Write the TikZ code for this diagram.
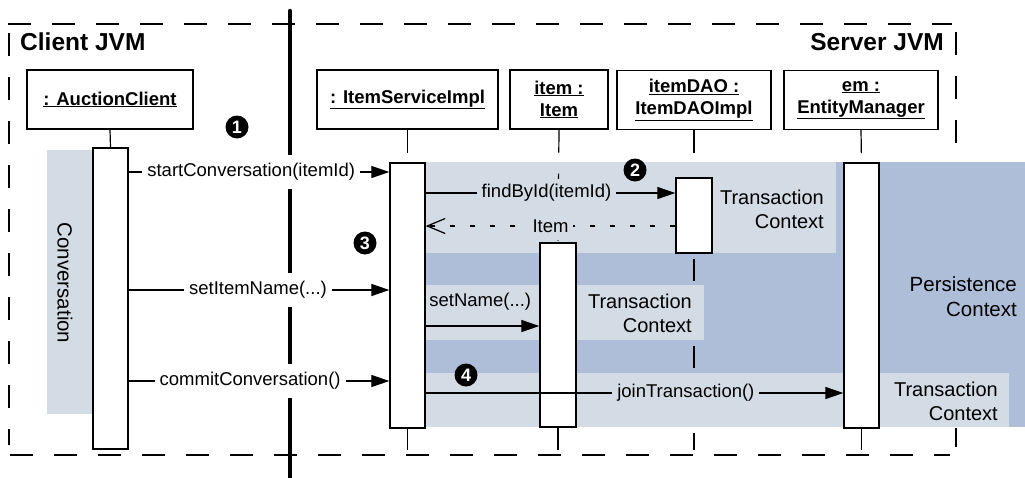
\documentclass[tikz,border=0pt]{standalone}
\usepackage{fontspec}
\setmainfont{Liberation Sans}
\usetikzlibrary{arrows.meta}
\definecolor{lightbg}{RGB}{211,220,228}
\definecolor{darkbg}{RGB}{174,190,217}
\newcommand\msgfont{\fontsize{18.5}{22}\selectfont}
\newcommand\ctxfont{\fontsize{20}{24}\selectfont}
\newcommand\headfont{\fontsize{18.5}{22}\selectfont\bfseries}
\begin{document}
\begin{tikzpicture}[x=1pt,y=-1pt,
 head/.style={draw,line width=1.3pt,fill=white,inner sep=0pt,font=\headfont,align=center,minimum height=59pt},
 act/.style={draw,line width=1.3pt,fill=white,inner sep=0pt,minimum width=35pt},
 life/.style={line width=1.2pt,dash pattern=on 23pt off 21pt},
 lifeend/.style={line width=1.2pt},
 msg/.style={line width=1.2pt,-{Triangle[length=18pt,width=12pt]}},
 ret/.style={line width=1.2pt,dash pattern=on 5pt off 15pt,-{Straight Barb[length=18pt,width=15pt,line width=1.2pt]}},
 mlab/.style={fill=white,inner xsep=5pt,inner ysep=8pt,font=\msgfont},
 llab/.style={mlab,fill=lightbg,inner ysep=5pt},
 ctx/.style={font=\ctxfont,align=right,inner sep=0pt,anchor=east},
 bullet/.style={circle,fill=black,text=white,inner sep=0pt,minimum size=23pt,font=\fontsize{18}{18}\selectfont\bfseries},
 frame/.style={line width=1.2pt,dash pattern=on 23pt off 21pt},
 jvm/.style={font=\fontsize{24.5}{28}\selectfont\bfseries,inner sep=0pt}
]
\useasboundingbox (0,0) rectangle (1025,477);
% frame
\draw[frame] (8,24) -- (952,24);
\draw[frame] (9,33) -- (9,445);
\draw[frame] (956,32) -- (956,447);
\draw[frame] (10,455) -- (950,455);
% backgrounds
\fill[lightbg] (47,150) rectangle (110,414);
\fill[darkbg] (420,162) rectangle (1025,427);
\fill[lightbg] (420,162) rectangle (836,253);
\fill[lightbg] (420,285) rectangle (704,340);
\fill[lightbg] (420,373) rectangle (1009,427);
% JVM boundary
\draw[line width=4.5pt,line cap=round] (290,11) -- (290,482);
% labels
\node[jvm,anchor=base west] (cjvm) at (20,50) {Client JVM};
\node[jvm,anchor=base east] (sjvm) at (944,50) {Server JVM};
\node[rotate=-90,font=\fontsize{20.5}{24}\selectfont,inner sep=0pt] (conv) at (65,283) {Conversation};
\node[ctx] (tc1) at (824,209) {Transaction\\Context};
\node[ctx] (tc2) at (692,313.5) {Transaction\\Context};
\node[ctx] (tc3) at (998,401) {Transaction\\Context};
\node[ctx,font=\fontsize{20.5}{25}\selectfont] (pc) at (1017,296.5) {Persistence\\Context};
% heads
\node[head,minimum width=166pt] (hA) at (110,99.5) {\underline{: AuctionClient}};
\node[head,minimum width=181pt] (hS) at (407.5,99.5) {\underline{: ItemServiceImpl}};
\node[head,minimum width=98pt] (hI) at (559,99.5) {\underline{item :}\\\underline{Item}};
\node[head,minimum width=154pt] (hD) at (694,100) {\underline{itemDAO :}\\\underline{ItemDAOImpl}};
\node[head,minimum width=154pt] (hE) at (861,100) {\underline{em :}\\\underline{EntityManager}};
% activations
\node[act,minimum height=301pt] (aA) at (110.5,298.5) {};
\node[act,minimum height=265pt] (aS) at (407.5,295.5) {};
\node[act,minimum width=36pt,minimum height=184pt] (aI) at (558,335) {};
\node[act,minimum width=36pt,minimum height=75pt] (aD) at (694,215.5) {};
\node[act,minimum height=265pt] (aE) at (861.5,295.5) {};
% lifelines
\coordinate (yb) at (0,450);
\draw[lifeend] (hA.south) -- (aA.north);
\draw[life] (hS.south) -- (aS.north);
\draw[life] (hI.south) -- (aI.north);
\draw[life,shorten >=6pt] (hD.south) -- (aD.north);
\draw[life] (hE.south) -- (aE.north);
\draw[lifeend] (aS.south) -- (aS.south |- yb);
\draw[lifeend] (aI.south) -- (aI.south |- yb);
\draw[lifeend] (aE.south) -- (aE.south |- yb);
\draw[line width=1.2pt,dash pattern=on 22pt off 65pt,dash phase=82pt] (aD.south) -- (aD.south |- yb);
% messages
\coordinate (y1) at (0,172);
\coordinate (y2) at (0,193);
\coordinate (y3) at (0,226);
\coordinate (y4) at (0,290);
\coordinate (y5) at (0,326);
\coordinate (y6) at (0,381);
\coordinate (y7) at (0,393);
\draw[msg] (aA.east |- y1) -- node[mlab,pos=0.47] (l1) {startConversation(itemId)} (aS.west |- y1);
\draw[msg] (aS.east |- y2) -- node[llab,pos=0.484] (l2) {findById(itemId)} (aD.west |- y2);
\draw[ret] (aD.west |- y3) -- node[llab,pos=0.5,inner ysep=8pt] (l3) {Item} (aS.east |- y3);
\draw[msg] (aA.east |- y4) -- node[mlab,pos=0.496] (l4) {setItemName(...)} (aS.west |- y4);
\draw[msg] (aS.east |- y5) -- node[pos=0.48,yshift=24pt,font=\msgfont,inner sep=0pt] (l5) {setName(...)} (aI.west |- y5);
\draw[msg] (aA.east |- y6) -- node[mlab,pos=0.466] (l6) {commitConversation()} (aS.west |- y6);
\draw[msg] (aS.east |- y7) -- node[llab,pos=0.623] (l7) {joinTransaction()} (aE.west |- y7);
% bullets
\node[bullet] (b1) at (237,127) {1};
\node[bullet] (b2) at (635,170) {2};
\node[bullet] (b3) at (365,243) {3};
\node[bullet] (b4) at (466,375) {4};
\end{tikzpicture}
\end{document}
